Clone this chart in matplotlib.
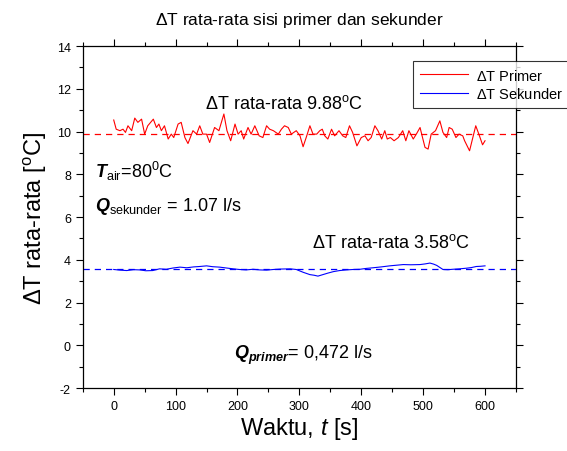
import matplotlib
matplotlib.use("Agg")
import matplotlib.pyplot as plt
from matplotlib.ticker import MultipleLocator

plt.rcParams['font.family'] = ['Liberation Sans', 'DejaVu Sans']
plt.rcParams['mathtext.fontset'] = 'custom'
plt.rcParams['mathtext.rm'] = 'Liberation Sans'
plt.rcParams['mathtext.it'] = 'Liberation Sans:italic'
plt.rcParams['mathtext.bf'] = 'Liberation Sans:bold'
plt.rcParams['mathtext.bfit'] = 'Liberation Sans:bold:italic'
plt.rcParams['axes.unicode_minus'] = False

# data
t_primer = [0, 4, 10, 15, 19, 23, 29, 34, 39, 45, 50, 55, 64, 69, 73, 77, 82, 88, 93, 97,
            104, 109, 115, 120, 128, 134, 139, 144, 150, 155, 163, 170, 178, 183, 189, 196,
            201, 206, 210, 217, 222, 228, 235, 241, 247, 252, 258, 266, 271, 276, 282, 287,
            295, 301, 306, 311, 317, 322, 328, 333, 337, 341, 346, 352, 357, 364, 370, 375,
            381, 386, 393, 400, 406, 411, 416, 422, 427, 433, 438, 442, 447, 453, 460, 467,
            472, 477, 484, 489, 495, 499, 503, 508, 513, 520, 527, 532, 538, 542, 547, 553,
            558, 564, 567, 575, 585, 590, 596, 600]
dt_primer = [10.54, 10.11, 10.04, 10.11, 9.96, 10.27, 10.04, 10.63, 10.43, 10.58, 9.88, 10.27,
             10.58, 10.19, 10.35, 10.04, 10.27, 9.65, 9.88, 9.72, 10.35, 10.43, 9.72, 9.44,
             10.04, 9.88, 10.27, 9.88, 9.88, 9.49, 10.19, 10.04, 10.82, 10.04, 9.57, 10.35,
             9.88, 10.04, 9.65, 10.19, 9.88, 10.27, 9.80, 9.72, 10.27, 10.11, 10.04, 9.88,
             10.11, 10.27, 10.19, 9.88, 10.04, 9.80, 9.29, 9.72, 10.27, 9.88, 9.88, 10.04,
             10.11, 9.80, 9.65, 10.11, 9.80, 10.04, 9.80, 9.72, 10.27, 9.96, 9.33, 9.72,
             9.80, 9.57, 9.72, 10.27, 10.04, 9.65, 10.04, 9.65, 9.72, 9.57, 9.72, 10.04,
             9.57, 10.04, 9.65, 9.88, 10.19, 9.72, 9.26, 9.18, 9.88, 10.04, 10.50, 9.96,
             9.72, 10.19, 10.11, 9.72, 9.88, 9.80, 9.57, 9.10, 10.27, 9.88, 9.38, 9.57]

t_sekunder = [0, 10, 21, 32, 42, 52, 63, 74, 85, 96, 107, 118, 129, 139, 150, 160, 171, 182,
              193, 203, 214, 225, 236, 247, 258, 270, 285, 295, 306, 317, 324, 330, 338, 346,
              355, 365, 376, 387, 398, 408, 419, 432, 446, 457, 468, 480, 495, 503, 511, 517,
              522, 532, 540, 548, 559, 570, 578, 586, 593, 600]
dt_sekunder = [3.55, 3.52, 3.50, 3.54, 3.53, 3.49, 3.50, 3.58, 3.56, 3.62, 3.66, 3.63, 3.67,
               3.69, 3.72, 3.68, 3.66, 3.62, 3.58, 3.55, 3.53, 3.56, 3.53, 3.52, 3.55, 3.57,
               3.58, 3.55, 3.42, 3.31, 3.28, 3.24, 3.31, 3.38, 3.45, 3.50, 3.53, 3.55, 3.56,
               3.60, 3.63, 3.67, 3.72, 3.75, 3.78, 3.77, 3.78, 3.81, 3.85, 3.80, 3.74, 3.55,
               3.54, 3.56, 3.58, 3.61, 3.64, 3.69, 3.70, 3.72]

mean_primer = 9.88
mean_sekunder = 3.58

fig = plt.figure(figsize=(5.67, 4.52), dpi=100)
ax = fig.add_axes([0.146, 0.139, 0.764, 0.757])

ax.plot(t_primer, dt_primer, color='#ff0000', lw=0.8, label=r'$\Delta$T Primer')
ax.plot(t_sekunder, dt_sekunder, color='#0000ff', lw=0.8, label=r'$\Delta$T Sekunder')
ax.axhline(mean_primer, color='#ff0000', lw=0.9, ls=(0, (5, 4)))
ax.axhline(mean_sekunder, color='#0000ff', lw=0.9, ls=(0, (5, 4)))

ax.set_xlim(-50, 650)
ax.set_ylim(-2, 14)
ax.xaxis.set_major_locator(MultipleLocator(100))
ax.xaxis.set_minor_locator(MultipleLocator(50))
ax.yaxis.set_major_locator(MultipleLocator(2))
ax.yaxis.set_minor_locator(MultipleLocator(1))
ax.tick_params(which='both', direction='out', top=True, right=True, labelsize=9,
               width=0.8)
ax.tick_params(which='major', length=5)
ax.tick_params(which='minor', length=3)
for s in ax.spines.values():
    s.set_linewidth(0.9)

ax.set_xlabel(r'Waktu, $\mathit{t}$ [s]', fontsize=17, labelpad=2)
ax.set_ylabel(r'$\Delta$T rata-rata [$^{\mathregular{o}}$C]', fontsize=17, labelpad=6)
fig.text(0.528, 0.955, r'$\Delta$T rata-rata sisi primer dan sekunder', ha='center',
         va='center', fontsize=12.5)

ax.text(147, 11.35, r'$\Delta$T rata-rata 9.88$^{\mathregular{o}}$C', fontsize=13,
        va='center')
ax.text(321, 4.85, r'$\Delta$T rata-rata 3.58$^{\mathregular{o}}$C', fontsize=13,
        va='center')
ax.text(-31, 8.2, r'$\mathbfit{T}_{\mathregular{air}}$=80$^{\mathregular{0}}$C', fontsize=13,
        va='center')
ax.text(-31, 6.55, r'$\mathbfit{Q}_{\mathregular{sekunder}}$ = 1.07 l/s', fontsize=13,
        va='center')
ax.text(195, -0.4, r'$\mathbfit{Q}_{\mathbfit{primer}}$= 0,472 l/s', fontsize=13,
        va='center')

leg = fig.legend(loc='upper left', bbox_to_anchor=(413 / 567, 1 - 62 / 452), fontsize=10.5,
                 frameon=True, fancybox=False, shadow=False, borderaxespad=0,
                 handlelength=3.3, borderpad=0.45, labelspacing=0.25, handletextpad=0.6)
leg.get_frame().set_edgecolor('black')
leg.get_frame().set_linewidth(0.8)

fig.savefig('out.png', dpi=100)
